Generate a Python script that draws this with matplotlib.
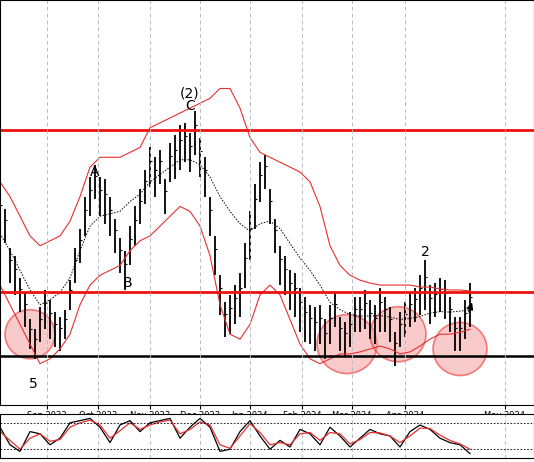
import numpy as np
import matplotlib.pyplot as plt

# price in chart units (higher = up), one bar every 5 units along x
xs = list(range(0, 475, 5))
closes = [185, 170, 130, 120, 100, 85, 60, 50, 70, 85, 75, 65, 60, 70, 100, 130,
          150, 180, 200, 215, 200, 195, 180, 160, 140, 125, 150, 170, 190, 210, 230, 220,
          230, 200, 235, 240, 250, 255, 245, 265, 240, 220, 180, 140, 100, 75, 80, 90,
          100, 130, 160, 190, 215, 225, 190, 160, 130, 120, 105, 100, 85, 75, 70, 65,
          70, 55, 70, 85, 60, 55, 65, 80, 80, 85, 75, 70, 85, 80, 70, 45,
          65, 75, 85, 90, 100, 110, 90, 95, 100, 95, 80, 60, 60, 75, 90]
spread = [40, 35, 35, 40, 35, 35, 30, 30, 35, 40, 40, 35, 35, 30, 30, 35,
          35, 40, 40, 35, 40, 45, 40, 35, 35, 40, 40, 40, 35, 35, 40, 40,
          35, 35, 40, 45, 45, 40, 40, 45, 40, 40, 40, 40, 40, 35, 40, 40,
          45, 45, 50, 45, 40, 35, 35, 35, 40, 40, 40, 45, 45, 45, 40, 45,
          40, 40, 40, 35, 35, 35, 35, 35, 35, 40, 40, 40, 45, 35, 35, 35,
          35, 35, 35, 35, 40, 50, 40, 35, 35, 40, 35, 35, 35, 40, 45]
xs_band = list(range(0, 480, 10))
upper = [215, 200, 180, 160, 150, 155, 160, 175, 200, 230, 240, 240, 240, 245, 250, 270,
         275, 280, 285, 290, 295, 300, 310, 310, 290, 260, 245, 240, 235, 230, 225, 215,
         190, 150, 130, 120, 115, 112, 110, 110, 110, 110, 108, 108, 106, 105, 105, 104]
lower = [110, 90, 70, 50, 30, 35, 45, 60, 90, 110, 120, 125, 130, 145, 155, 160,
         170, 180, 190, 185, 170, 140, 90, 60, 55, 70, 100, 110, 100, 75, 50, 35,
         30, 35, 40, 40, 42, 45, 48, 45, 40, 42, 48, 55, 60, 60, 62, 65]
stoch_k = [70, 30, 15, 60, 55, 30, 45, 80, 85, 90, 70, 35, 75, 85, 60, 80,
           85, 90, 45, 70, 90, 70, 15, 20, 60, 85, 50, 20, 40, 25, 65, 55,
           30, 70, 50, 25, 45, 65, 55, 50, 25, 60, 75, 65, 45, 35, 30, 10]
stoch_d = [60, 40, 20, 45, 55, 38, 42, 70, 80, 86, 75, 45, 62, 80, 65, 75,
           82, 86, 55, 65, 82, 75, 30, 22, 50, 78, 58, 30, 35, 30, 55, 58,
           40, 58, 55, 32, 42, 58, 57, 50, 35, 50, 68, 67, 52, 40, 32, 20]
month_labels = ["Sep 2023", "Oct 2023", "Nov 2023", "Dec 2023", "Jan 2024",
                "Feb 2024", "Mar 2024", "Apr 2024", "May 2024"]
month_pos = [47, 98, 150, 200, 250, 302, 352, 405, 505]
levels_red = [268, 103]
level_black = 38
circles = [(30, 60, 25), (347, 50, 30), (398, 60, 28), (460, 45, 27)]
waves = [("(2)", 190, 298), ("C", 190, 285), ("A", 95, 218), ("B", 127, 105),
         ("2", 425, 137), ("5", 33, 2)]

fig = plt.figure(figsize=(5.34, 4.62), dpi=100)
ax = fig.add_axes([0, 57 / 462, 1, 405 / 462])
ax2 = fig.add_axes([0, 4 / 462, 1, 44 / 462])

x = np.array(xs)
c = np.array(closes)
s = np.array(spread)
for xi, ci, si in zip(x, c, s):
    ax.vlines(xi, ci - si / 2, ci + si / 2, color="black", lw=1.3)
    ax.hlines(ci - si / 4, xi - 1.5, xi, color="black", lw=0.8)
    ax.hlines(ci + si / 6, xi, xi + 1.5, color="black", lw=0.8)
xb = np.array(xs_band)
ax.plot(xb, upper, color="#e83030", lw=0.8)
ax.plot(xb, lower, color="#e83030", lw=0.8)
ax.plot(xb, (np.array(upper) + np.array(lower)) / 2, color="black", lw=0.7, ls=(0, (1.5, 1.5)))

for lv in levels_red:
    ax.axhline(lv, color="#ee1111", lw=2)
ax.axhline(level_black, color="black", lw=1.8)
for cx, cy, r in circles:
    ax.add_patch(plt.Circle((cx, cy), r, fc="#f4a0a0", ec="#ee2222", alpha=0.55, lw=1.2))
for t, tx, ty in waves:
    ax.text(tx, ty, t, ha="center", va="bottom", fontsize=10)
ax.annotate("", xy=(473, 95), xytext=(468, 80), arrowprops=dict(arrowstyle="-|>", color="black", lw=1))

for mp in month_pos:
    ax.axvline(mp, color="#bbbbbb", lw=0.7, ls=(0, (4, 3)))
    ax2.axvline(mp, color="#bbbbbb", lw=0.7, ls=(0, (4, 3)))
ax.set_xlim(0, 534)
ax.set_ylim(-12, 400)
ax.set_yticks([])
ax.set_xticks(month_pos)
ax.set_xticklabels(month_labels, fontsize=6)
ax.tick_params(axis="x", length=3, pad=1)
ax.text(527, -0.03, "Ma", transform=ax.get_xaxis_transform(), fontsize=6, va="top", ha="left")

ax2.plot(x[::2], stoch_k, color="black", lw=0.9)
ax2.plot(x[::2], stoch_d, color="#e83030", lw=0.9)
for lv in (20, 80):
    ax2.axhline(lv, color="black", lw=0.6, ls=(0, (2, 2)))
ax2.set_xlim(0, 534)
ax2.set_ylim(0, 100)
ax2.set_xticks([])
ax2.set_yticks([])

fig.savefig("out.png", dpi=100)
